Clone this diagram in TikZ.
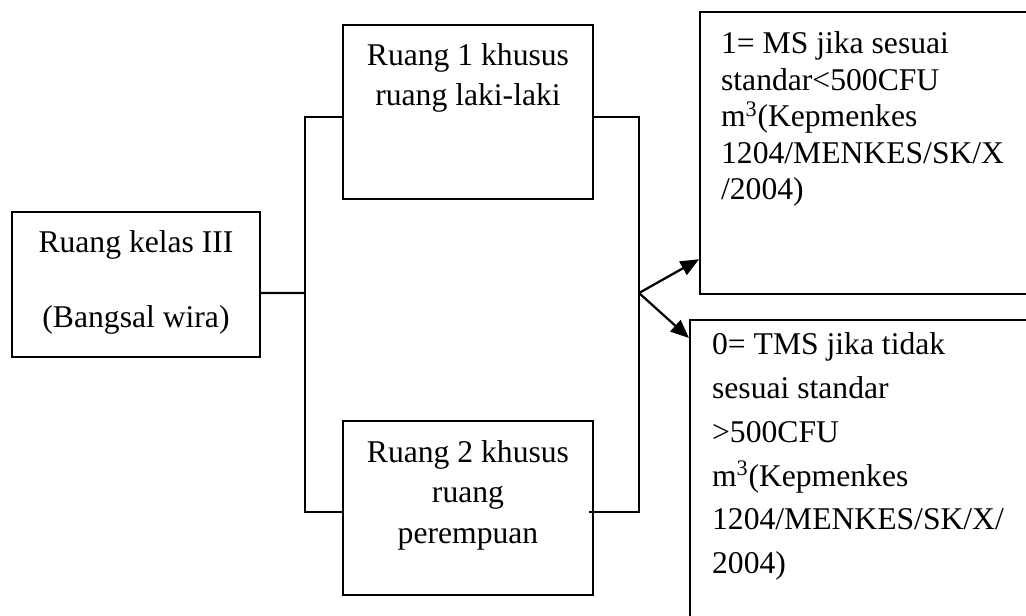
\documentclass[tikz,border=0pt]{standalone}
\usepackage{fontspec}
\setmainfont{Liberation Serif}
\usetikzlibrary{positioning,arrows.meta}

\begin{document}
\begin{tikzpicture}[line width=1.6pt, >={Triangle[length=.46cm,width=.38cm]},
  kotak/.style={draw, inner sep=0pt},
  teks/.style={inner sep=0pt, align=center, font=\fontsize{22.5}{28.8}\selectfont},
  teksl/.style={inner sep=0pt, align=left, font=\fontsize{22.5}{26}\selectfont}]
\path[use as bounding box, clip] (0,0) rectangle (25.65,-15.375);
%\draw (0,0) to[grid with coordinates] (25.6,-15.3);
\node[kotak, minimum width=6.2cm, minimum height=3.625cm] (kelas) at (3.4,-7.1125) {};
\node[teks, below=.46cm of kelas.north] (kelast) {Ruang kelas III\\[24.5pt](Bangsal wira)};
\node[kotak, minimum width=6.25cm, minimum height=4.35cm] (r1) at (11.7,-2.8) {};
\node[teks, below=.46cm of r1.north] (r1t) {Ruang 1 khusus\\ruang laki-laki};
\node[kotak, minimum width=6.25cm, minimum height=4.35cm] (r2) at (11.7,-12.7) {};
\node[teks, below=.485cm of r2.north] (r2t) {Ruang 2 khusus\\ruang\\perempuan};
\node[kotak, minimum width=9cm, minimum height=7.05cm, anchor=north west] (ms) at (17.475,-.275) {};
\node[teksl, below right=.485cm and .525cm of ms.north west] (mst) {1= MS jika sesuai\\standar<500CFU\\m\textsuperscript{3}(Kepmenkes\\1204/MENKES/SK/X\\/2004)};
\node[kotak, minimum width=9.5cm, minimum height=8cm, anchor=north west] (tms) at (17.225,-7.975) {};
\node[teksl, font=\fontsize{22.5}{31.2}\selectfont, below right=.31cm and .55cm of tms.north west] (tmst) {0= TMS jika tidak\\sesuai standar\\>500CFU\\m\textsuperscript{3}(Kepmenkes\\1204/MENKES/SK/X/\\2004)};
\coordinate (kiri) at (7.625,-7.325);
\coordinate (kanan) at (15.975,-7.325);
\draw ([yshift=-.2125cm]kelas.east) -- (kiri);
\draw ([yshift=-.125cm]r1.west) -| (kiri) |- ([yshift=-.1cm]r2.west);
\draw ([yshift=-.125cm]r1.east) -| (kanan) |- ([xshift=-.125cm,yshift=-.1cm]r2.east);
\draw[->] (kanan) -- ([yshift=.9cm]ms.south west);
\draw[->] (kanan) -- ([yshift=-.475cm]tms.north west);
\end{tikzpicture}
\end{document}
